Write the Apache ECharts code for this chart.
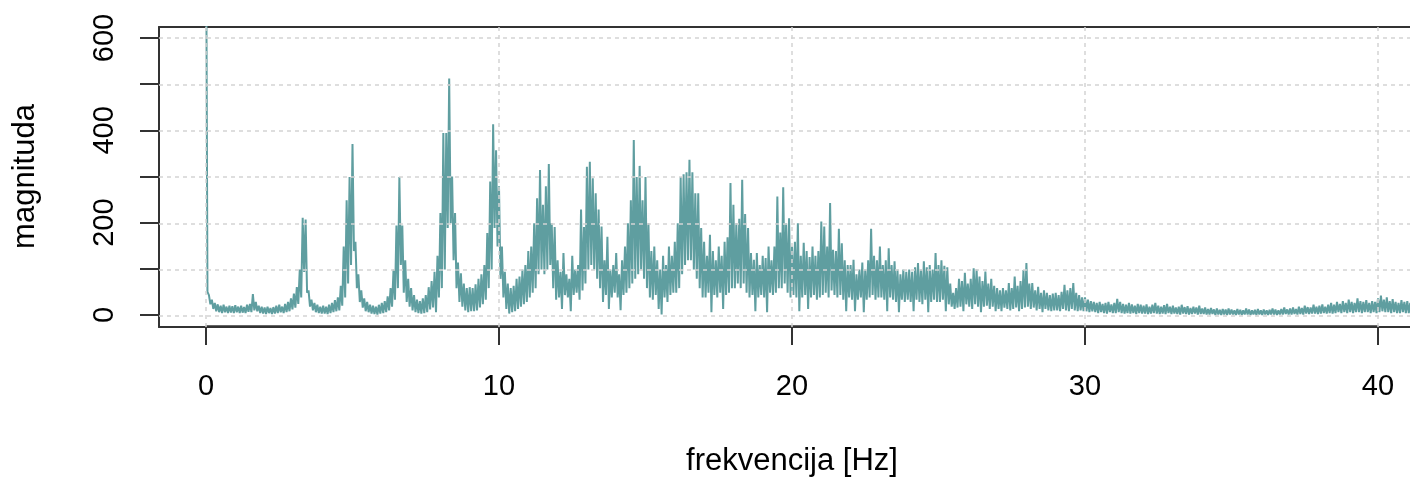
<!DOCTYPE html>
<html>
<head>
<meta charset="utf-8">
<title>spektar</title>
<script src="https://cdn.jsdelivr.net/npm/echarts@6/dist/echarts.min.js"></script>
<style>
  html, body { margin: 0; padding: 0; background: #fff; }
  #main { width: 1410px; height: 482px; }
</style>
</head>
<body>
<div id="main"></div>
<script>
// frekvencijski korak (Hz) - svaka celija ima gornju i donju vrijednost trace-a
var freqStep = 0.1;

// gornja ovojnica magnitude, od 0 Hz nadalje (10 vrijednosti = 1 Hz)
var magHi = [
  900, 45, 35, 28, 25, 22, 24, 20, 22, 21,
  23, 20, 22, 19, 24, 26, 47, 30, 22, 20,
  18, 20, 17, 19, 22, 24, 20, 26, 30, 38,
  48, 62, 100, 212, 208, 55, 35, 28, 24, 20,
  22, 20, 24, 28, 34, 40, 65, 150, 250, 300,
  371, 160, 90, 55, 38, 30, 24, 22, 20, 24,
  28, 32, 42, 60, 100, 195, 300, 195, 120, 80,
  60, 45, 35, 32, 38, 45, 62, 75, 95, 130,
  222, 395, 395, 513, 301, 222, 115, 92, 70, 60,
  62, 60, 68, 80, 90, 110, 179, 290, 414, 358,
  280, 150, 95, 70, 60, 65, 80, 85, 100, 110,
  140, 150, 200, 254, 315, 240, 280, 328, 200, 192,
  120, 95, 136, 90, 80, 130, 100, 110, 230, 192,
  322, 333, 297, 265, 230, 193, 120, 171, 100, 110,
  136, 90, 120, 150, 200, 250, 380, 300, 324, 250,
  300, 200, 140, 150, 120, 100, 130, 110, 150, 130,
  160, 200, 300, 306, 310, 337, 310, 265, 265, 190,
  160, 130, 175, 140, 120, 150, 130, 160, 170, 287,
  240, 200, 210, 294, 220, 190, 136, 121, 136, 110,
  130, 125, 150, 120, 150, 258, 180, 278, 200, 211,
  150, 160, 200, 130, 158, 140, 127, 150, 130, 140,
  204, 193, 150, 244, 143, 140, 188, 157, 120, 110,
  110, 121, 90, 100, 115, 100, 120, 188, 130, 120,
  150, 110, 120, 146, 110, 118, 100, 90, 100, 95,
  100, 95, 105, 114, 100, 118, 105, 110, 100, 136,
  110, 120, 108, 105, 70, 50, 60, 80, 75, 93,
  70, 80, 103, 100, 85, 75, 96, 70, 80, 65,
  60, 55, 60, 55, 71, 60, 85, 65, 75, 99,
  114, 70, 71, 55, 63, 50, 55, 50, 45, 48,
  50, 45, 52, 67, 55, 60, 71, 50, 45, 40,
  40, 35, 32, 30, 28, 30, 26, 28, 30, 25,
  28, 37, 30, 26, 24, 28, 25, 22, 26, 24,
  22, 25, 20, 24, 28, 22, 20, 23, 26, 20,
  22, 18, 20, 24, 19, 21, 17, 20, 18, 22,
  16, 18, 15, 17, 14, 16, 13, 15, 14, 16,
  14, 12, 15, 13, 12, 16, 14, 12, 13, 15,
  12, 14, 12, 13, 16, 14, 12, 15, 18, 14,
  16, 18, 15, 20, 17, 22, 19, 18, 24, 20,
  22, 25, 20, 24, 28, 24, 30, 26, 32, 28,
  35, 30, 28, 38, 32, 30, 34, 28, 32, 30,
  38, 44, 35, 40, 32, 36, 30, 28, 34, 30,
  32, 28, 30, 26, 30, 28, 25, 28
];

// donja ovojnica (dno trace-a u istoj celiji)
var magLo = [
  52, 25, 15, 10, 8, 6, 8, 6, 7, 6,
  8, 6, 7, 6, 9, 8, 12, 10, 6, 5,
  4, 6, 4, 5, 6, 8, 6, 8, 10, 14,
  18, 26, 40, 95, 50, 20, 12, 8, 6, 5,
  5, 4, 6, 8, 10, 12, 22, 40, 70, 110,
  140, 60, 30, 18, 10, 8, 5, 4, 3, 5,
  6, 8, 12, 20, 35, 60, 110, 50, 30, 20,
  12, 8, 6, 5, 6, 8, 14, 18, 8, 40,
  60, 100, 190, 200, 120, 60, 30, 20, 12, 8,
  10, 10, 12, 18, 25, 35, 60, 100, 190, 150,
  80, 40, 15, 5, 8, 10, 15, 20, 25, 30,
  40, 50, 60, 90, 100, 90, 100, 110, 60, 35,
  40, 15, 45, 40, 10, 45, 50, 35, 55, 70,
  100, 110, 100, 80, 60, 30, 45, 15, 40, 50,
  40, 12, 45, 50, 60, 70, 80, 90, 100, 80,
  60, 40, 35, 45, 15, 3, 40, 30, 45, 50,
  50, 60, 90, 110, 120, 120, 100, 80, 60, 40,
  40, 50, 8, 45, 40, 50, 15, 45, 50, 60,
  60, 70, 60, 70, 50, 40, 45, 10, 40, 45,
  40, 8, 50, 45, 50, 60, 60, 70, 50, 40,
  45, 40, 10, 40, 45, 15, 40, 45, 35, 40,
  45, 50, 40, 55, 45, 40, 45, 35, 10, 40,
  35, 10, 35, 40, 8, 35, 40, 45, 35, 40,
  40, 35, 10, 40, 35, 30, 8, 35, 30, 35,
  30, 10, 35, 30, 25, 35, 8, 30, 35, 30,
  30, 35, 10, 25, 20, 15, 18, 20, 10, 25,
  20, 15, 25, 20, 8, 20, 22, 15, 20, 10,
  15, 10, 18, 15, 12, 15, 18, 10, 15, 18,
  20, 15, 18, 12, 15, 8, 15, 12, 10, 12,
  12, 10, 15, 12, 10, 15, 12, 10, 12, 10,
  10, 8, 10, 8, 6, 8, 6, 5, 8, 6,
  6, 8, 6, 5, 6, 5, 6, 4, 6, 5,
  5, 4, 5, 6, 5, 4, 5, 4, 6, 4,
  5, 4, 3, 5, 4, 3, 4, 5, 3, 4,
  4, 3, 3, 4, 2, 3, 2, 3, 2, 3,
  3, 2, 3, 2, 3, 3, 2, 3, 2, 3,
  2, 3, 2, 3, 3, 2, 3, 3, 4, 3,
  3, 4, 3, 4, 3, 5, 4, 5, 5, 4,
  5, 6, 5, 6, 5, 6, 8, 6, 8, 6,
  8, 6, 8, 8, 6, 8, 8, 6, 8, 6,
  8, 10, 8, 8, 6, 8, 6, 6, 8, 6,
  6, 8, 6, 6, 8, 6, 5, 6
];

var xTicks = [0, 10, 20, 30, 40];
var yTicks = [0, 100, 200, 300, 400, 500, 600];
var yTickLabels = [0, 200, 400, 600];

// spajamo gornju i donju vrijednost u jednu liniju (kao type="l" u R-u)
var spectrum = [];
for (var i = 0; i < magHi.length; i++) {
  var f = i * freqStep;
  spectrum.push([f, magHi[i]]);
  spectrum.push([f + freqStep / 2, magLo[i]]);
}

// mreza (isprekidane linije) iz tick vrijednosti
var gridLines = [];
yTicks.forEach(function(v) { gridLines.push({ yAxis: v }); });
xTicks.forEach(function(v) { gridLines.push({ xAxis: v }); });

var font = '"Liberation Sans", Arial, sans-serif';
var boxLine = { show: true, onZero: false, lineStyle: { color: '#333', width: 2 } };

var chart = echarts.init(document.getElementById('main'), null, { renderer: 'canvas' });

var option = {
  animation: false,
  backgroundColor: '#fff',
  grid: [
    // okvir grafa (ylim 0-600 + 4%), desni rub je odrezan
    { left: 159, right: 0, top: 27, bottom: 155 },
    // podrucje osi: 0-40 Hz, 0-600
    { left: 206, right: 32, top: 38, bottom: 166 }
  ],
  xAxis: [{
    gridIndex: 0, type: 'value', min: -1.604, max: 41.092,
    axisLine: boxLine, axisTick: { show: false }, axisLabel: { show: false }, splitLine: { show: false }
  }, {
    gridIndex: 1, type: 'value', min: 0, max: 40, interval: 10, offset: 11,
    axisLine: { show: true, onZero: false, lineStyle: { color: '#333', width: 1.5 } },
    axisTick: { show: true, inside: false, length: 19, lineStyle: { color: '#333', width: 2 } },
    splitLine: { show: false },
    axisLabel: { fontSize: 29, fontFamily: font, color: '#000', margin: 46 },
    name: 'frekvencija [Hz]', nameLocation: 'middle', nameGap: 120,
    nameTextStyle: { fontSize: 31, fontFamily: font, color: '#000' }
  }, {
    gridIndex: 0, type: 'value', min: -1.604, max: 41.092, position: 'top',
    axisLine: boxLine, axisTick: { show: false }, axisLabel: { show: false }, splitLine: { show: false }
  }],
  yAxis: [{
    gridIndex: 0, type: 'value', min: -24, max: 624,
    axisLine: boxLine, axisTick: { show: false }, axisLabel: { show: false }, splitLine: { show: false }
  }, {
    gridIndex: 1, type: 'value', min: 0, max: 600, interval: 100, offset: 47,
    axisLine: { show: true, onZero: false, lineStyle: { color: '#333', width: 1.5 } },
    axisTick: { show: true, inside: false, length: 19, lineStyle: { color: '#333', width: 2 } },
    splitLine: { show: false },
    axisLabel: {
      fontSize: 29, fontFamily: font, color: '#000', margin: 40, rotate: 90,
      formatter: function(v) { return yTickLabels.indexOf(v) >= 0 ? String(v) : ''; }
    },
    name: 'magnituda', nameLocation: 'middle', nameGap: 118, nameRotate: 90,
    nameTextStyle: { fontSize: 31, fontFamily: font, color: '#000' }
  }],
  series: [{
    type: 'line',
    xAxisIndex: 0,
    yAxisIndex: 0,
    data: spectrum,
    symbol: 'none',
    silent: true,
    clip: true,
    lineStyle: { color: '#5F9EA0', width: 2, join: 'bevel' },
    markLine: {
      silent: true,
      symbol: 'none',
      animation: false,
      label: { show: false },
      emphasis: { disabled: true },
      lineStyle: { color: '#d3d3d3', type: [4, 4], width: 1.5 },
      data: gridLines
    }
  }]
};

chart.setOption(option);
</script>
</body>
</html>
